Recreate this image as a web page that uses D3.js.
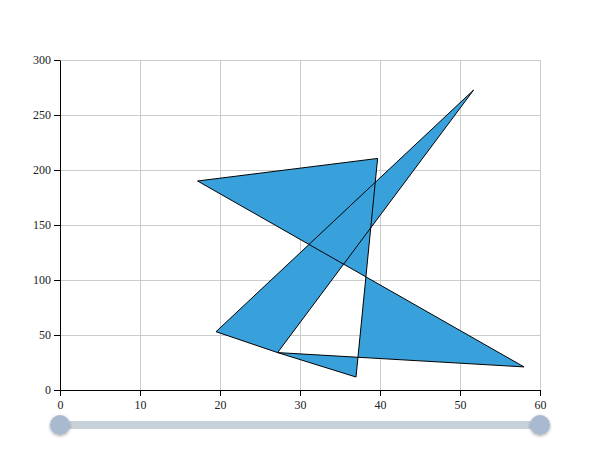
<!DOCTYPE html>
<html><head><meta charset="utf-8">
<script src="https://cdn.jsdelivr.net/npm/d3@7"></script>
<style>body{margin:0;background:#fff}svg{display:block}
.ax text{font-family:"Liberation Serif","Times New Roman",serif !important;font-size:12px !important;fill:#222}</style>
</head><body>
<svg id="c" width="600" height="450"></svg>
<script>
const xs = [17.2, 39.7, 37.0, 27.2, 19.5, 51.7, 27.2, 58.0];
const ys = [190, 210.5, 11.8, 34, 53, 272.7, 34, 21];
const xTicks = [0, 10, 20, 30, 40, 50, 60];
const yTicks = [0, 50, 100, 150, 200, 250, 300];

const svg = d3.select('#c');
const m = {l: 60, r: 60, t: 60, b: 60};
const W = 600, H = 450;
const x = d3.scaleLinear().domain([0, 60]).range([m.l, W - m.r]);
const y = d3.scaleLinear().domain([0, 300]).range([H - m.b, m.t]);

const grid = svg.append('g');
grid.selectAll('.gx').data(xTicks.slice(1)).join('line')
  .attr('x1', d => x(d)).attr('x2', d => x(d)).attr('y1', y(0)).attr('y2', y(300))
  .attr('stroke', '#ccc').attr('stroke-width', 1).attr('shape-rendering', 'crispEdges');
grid.selectAll('.gy').data(yTicks.slice(1)).join('line')
  .attr('y1', d => y(d)).attr('y2', d => y(d)).attr('x1', x(0)).attr('x2', x(60))
  .attr('stroke', '#ccc').attr('stroke-width', 1).attr('shape-rendering', 'crispEdges');

const pts = xs.map((v, i) => [x(v), y(ys[i])]);
svg.append('path')
  .attr('d', d3.line()(pts) + 'Z')
  .attr('fill', '#38a1db').attr('stroke', '#000').attr('stroke-width', 1)
  .attr('stroke-linejoin', 'miter');

const fmt = d3.format('d');
const gx = svg.append('g').attr('class', 'ax').attr('transform', `translate(0,${y(0)})`)
  .call(d3.axisBottom(x).tickValues(xTicks).tickFormat(fmt).tickSizeOuter(0));
const gy = svg.append('g').attr('class', 'ax').attr('transform', `translate(${x(0)},0)`)
  .call(d3.axisLeft(y).tickValues(yTicks).tickFormat(fmt).tickSizeOuter(0));
[gx, gy].forEach(g => {
  g.attr('font-family', '"Liberation Serif", serif');
  g.select('.domain').attr('stroke', '#000');
  g.selectAll('.tick line').attr('stroke', '#000');
});
gx.selectAll('text').attr('dy', '0.85em');

// slider
const defs = svg.append('defs');
const f = defs.append('filter').attr('id', 'sh').attr('x', '-50%').attr('y', '-50%').attr('width', '200%').attr('height', '200%');
f.append('feDropShadow').attr('dx', 0).attr('dy', 1).attr('stdDeviation', 1.5).attr('flood-color', '#000').attr('flood-opacity', 0.35);
const sy = 425;
svg.append('line').attr('x1', x(0)).attr('x2', x(60)).attr('y1', sy).attr('y2', sy)
  .attr('stroke', '#c8d0d8').attr('stroke-width', 8);
svg.selectAll('.h').data([0, 60]).join('circle')
  .attr('cx', d => x(d)).attr('cy', sy).attr('r', 10)
  .attr('fill', '#a9b9cf').attr('filter', 'url(#sh)');
</script>
</body></html>
